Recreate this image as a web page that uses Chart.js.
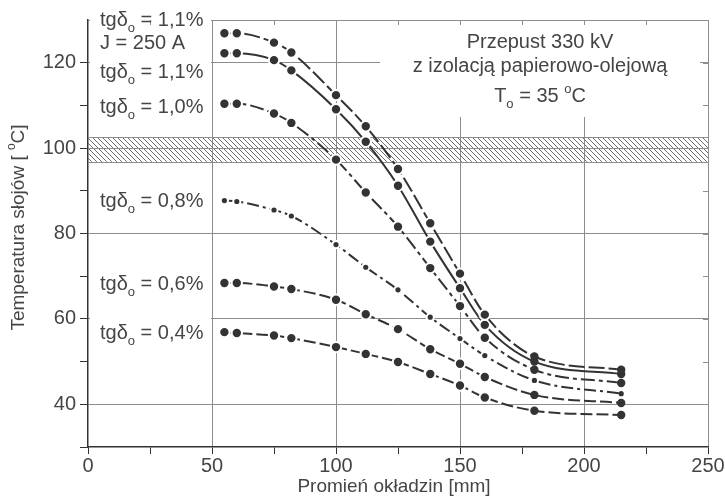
<!DOCTYPE html>
<html lang="pl">
<head>
<meta charset="UTF-8" />
<title>Przepust 330 kV – temperatura słojów</title>
<style>
  html, body { margin: 0; padding: 0; background: #fff; }
</style>
</head>
<body>
<canvas id="chart" width="725" height="496"></canvas>

<script src="https://cdn.jsdelivr.net/npm/chart.js"></script>
<script>
  // Promień okładzin [mm]
  const radius = [55, 60, 75, 82, 100, 112, 125, 138, 150, 160, 180, 215];

  // Temperatura słojów [oC] – jedna tablica na krzywą
  const temp11J = [126.9, 126.9, 124.7, 122.4, 112.4, 105.1, 95.1, 82.4, 70.6, 61.0, 51.2, 48.1];
  const temp11  = [122.2, 122.2, 120.6, 118.2, 109.1, 101.5, 91.2, 78.1, 67.2, 58.6, 50.0, 47.1];
  const temp10  = [110.4, 110.4, 108.1, 105.9, 97.3, 89.6, 81.6, 71.9, 63.0, 55.6, 48.1, 45.0];
  const temp08  = [87.7, 87.5, 85.5, 84.1, 77.4, 72.1, 66.8, 60.4, 55.4, 51.4, 45.6, 42.5];
  const temp06  = [68.4, 68.4, 67.6, 67.0, 64.5, 61.1, 57.6, 52.9, 49.5, 46.4, 42.2, 40.3];
  const temp04  = [56.9, 56.7, 56.1, 55.5, 53.4, 51.8, 49.9, 47.1, 44.4, 41.6, 38.5, 37.5];

  // zakreskowany pas wokół 100 oC
  const bandLow = 96.8;
  const bandHigh = 102.6;

  // opisane wartości osi
  const xTicks = [0, 50, 100, 150, 200, 250];
  const yTicks = [40, 60, 80, 100, 120];

  const ink = '#333';
  const gridGray = '#8d8d8d';
  const textGray = '#454545';
  const FAMILY = '"Liberation Sans", Arial, sans-serif';
  Chart.defaults.font.family = FAMILY;

  function series(label, values, dash, small) {
    return {
      label: label,
      data: radius.map((r, i) => ({ x: r, y: values[i] })),
      borderColor: ink,
      borderWidth: 2,
      borderDash: dash,
      cubicInterpolationMode: 'monotone',
      fill: false,
      pointBackgroundColor: ink,
      pointBorderColor: '#fff',
      // przerwa w linii wokół znacznika, z wyjątkiem ciasnych końcówek
      pointRadius: c => c.dataIndex >= 10 ? (small ? 2.6 : 4.2) : (small ? 3.6 : 5.2),
      pointBorderWidth: c => c.dataIndex >= 10 ? 0 : 2
    };
  }

  // tekst z indeksami dolnymi / górnymi
  function rich(ctx, parts, x, y, size, align) {
    const big = size + 'px ' + FAMILY;
    const small = Math.round(size * 0.65) + 'px ' + FAMILY;
    let w = 0;
    parts.forEach(p => {
      ctx.font = (p.sub || p.sup) ? small : big;
      p.w = ctx.measureText(p.t).width;
      w += p.w;
    });
    let cx = align === 'center' ? x - w / 2 : x;
    ctx.textAlign = 'left';
    ctx.textBaseline = 'alphabetic';
    parts.forEach(p => {
      ctx.font = (p.sub || p.sup) ? small : big;
      const dy = p.sub ? size * 0.3 : (p.sup ? -size * 0.45 : 0);
      ctx.fillText(p.t, cx, y + dy);
      cx += p.w;
    });
  }

  function tg(value) {
    return [{ t: 'tgδ' }, { t: 'o', sub: true }, { t: ' = ' + value }];
  }

  function makeHatch(ctx) {
    const c = document.createElement('canvas');
    c.width = 5; c.height = 5;
    const g = c.getContext('2d');
    g.strokeStyle = '#6e6e6e';
    g.lineWidth = 1;
    g.beginPath();
    g.moveTo(-1, -1); g.lineTo(6, 6);
    g.moveTo(-1, 4); g.lineTo(1, 6);
    g.moveTo(4, -1); g.lineTo(6, 1);
    g.stroke();
    return ctx.createPattern(c, 'repeat');
  }

  const decor = {
    id: 'decor',
    beforeDatasetsDraw(chart) {
      const { ctx, chartArea: a, scales: { x, y } } = chart;
      ctx.save();

      // białe tła pod opisami (zasłaniają siatkę)
      ctx.fillStyle = '#fff';
      const x50 = x.getPixelForValue(50);
      ctx.fillRect(a.left + 2, 0, x50 - a.left - 3, y.getPixelForValue(bandHigh) - 3);
      ctx.fillRect(a.left + 2, 268, x50 - a.left - 3, 80);
      ctx.fillRect(380, a.top + 3, 320, 94);

      // pas zakreskowany
      const yTop = y.getPixelForValue(bandHigh);
      const yBot = y.getPixelForValue(bandLow);
      ctx.fillStyle = makeHatch(ctx);
      ctx.fillRect(a.left, yTop, a.right - a.left, yBot - yTop);
      ctx.strokeStyle = gridGray;
      ctx.lineWidth = 1;
      ctx.beginPath();
      ctx.moveTo(a.left, Math.round(yTop) + 0.5); ctx.lineTo(a.right, Math.round(yTop) + 0.5);
      ctx.moveTo(a.left, Math.round(yBot) + 0.5); ctx.lineTo(a.right, Math.round(yBot) + 0.5);
      const y100 = Math.round(y.getPixelForValue(100)) + 0.5;
      ctx.moveTo(a.left, y100); ctx.lineTo(a.right, y100);
      ctx.stroke();

      // kreski podziałki na osi górnej i prawej
      ctx.strokeStyle = gridGray;
      ctx.beginPath();
      for (let v = 40; v <= 120; v += 10) {
        const py = Math.round(y.getPixelForValue(v)) + 0.5;
        ctx.moveTo(a.right, py); ctx.lineTo(a.right - 5, py);
      }
      for (let v = 25; v <= 225; v += 25) {
        const px = Math.round(x.getPixelForValue(v)) + 0.5;
        ctx.moveTo(px, a.top); ctx.lineTo(px, a.top + 5);
      }
      ctx.stroke();

      // opisy krzywych
      ctx.fillStyle = textGray;
      rich(ctx, tg('1,1%'), 100, 26, 20);
      rich(ctx, [{ t: 'J = 250 A' }], 100, 49, 20);
      rich(ctx, tg('1,1%'), 100, 78, 20);
      rich(ctx, tg('1,0%'), 100, 113, 20);
      rich(ctx, tg('0,8%'), 100, 207, 20);
      rich(ctx, tg('0,6%'), 100, 290, 20);
      rich(ctx, tg('0,4%'), 100, 339, 20);

      // tytuł
      rich(ctx, [{ t: 'Przepust 330 kV' }], 540, 48, 20, 'center');
      rich(ctx, [{ t: 'z izolacją papierowo-olejową' }], 540, 72, 20, 'center');
      rich(ctx, [{ t: 'T' }, { t: 'o', sub: true }, { t: ' = 35 ' }, { t: 'o', sup: true }, { t: 'C' }], 540, 102, 20, 'center');

      // tytuły osi
      rich(ctx, [{ t: 'Promień okładzin [mm]' }], (a.left + a.right) / 2 - 4, 492, 19, 'center');
      ctx.save();
      ctx.translate(24, (a.top + a.bottom) / 2 - 6);
      ctx.rotate(-Math.PI / 2);
      rich(ctx, [{ t: 'Temperatura słojów [ ' }, { t: 'o', sup: true }, { t: 'C]' }], 0, 0, 19, 'center');
      ctx.restore();

      ctx.restore();
    }
  };

  new Chart(document.getElementById('chart'), {
    type: 'line',
    data: {
      datasets: [
        series('tgδo = 1,1%, J = 250 A', temp11J, [16, 4]),
        series('tgδo = 1,1%', temp11, []),
        series('tgδo = 1,0%', temp10, [14, 4, 4, 4]),
        series('tgδo = 0,8%', temp08, [12, 4, 3, 4], true),
        series('tgδo = 0,6%', temp06, [12, 4]),
        series('tgδo = 0,4%', temp04, [12, 4])
      ]
    },
    options: {
      responsive: false,
      animation: false,
      layout: { padding: { top: 20, right: 17, left: 0, bottom: 0 } },
      plugins: {
        legend: { display: false },
        tooltip: { enabled: false }
      },
      scales: {
        x: {
          type: 'linear',
          min: 0,
          max: 250,
          afterFit: s => { s.height = 49; },
          ticks: {
            stepSize: 25,
            autoSkip: false,
            maxRotation: 0,
            padding: 0,
            color: textGray,
            font: { size: 20 },
            callback: v => xTicks.includes(v) ? String(v) : ''
          },
          grid: {
            color: c => (c.tick && c.tick.value > 0 && xTicks.includes(c.tick.value)) ? gridGray : 'rgba(0,0,0,0)',
            tickColor: ink,
            tickLength: 7,
            lineWidth: 1
          },
          border: { color: ink, width: 1.5 }
        },
        y: {
          type: 'linear',
          min: 30,
          max: 130,
          afterFit: s => { s.width = 88; },
          ticks: {
            stepSize: 10,
            autoSkip: false,
            padding: 4,
            color: textGray,
            font: { size: 20 },
            callback: v => yTicks.includes(v) ? String(v) : ''
          },
          grid: {
            color: c => (c.tick && (yTicks.includes(c.tick.value) || c.tick.value === 130)) ? gridGray : 'rgba(0,0,0,0)',
            tickColor: c => (c.tick && c.tick.value === 130) ? 'rgba(0,0,0,0)' : ink,
            tickLength: 8,
            lineWidth: 1
          },
          border: { color: ink, width: 1.5 }
        }
      }
    },
    plugins: [decor]
  });
</script>
</body>
</html>
